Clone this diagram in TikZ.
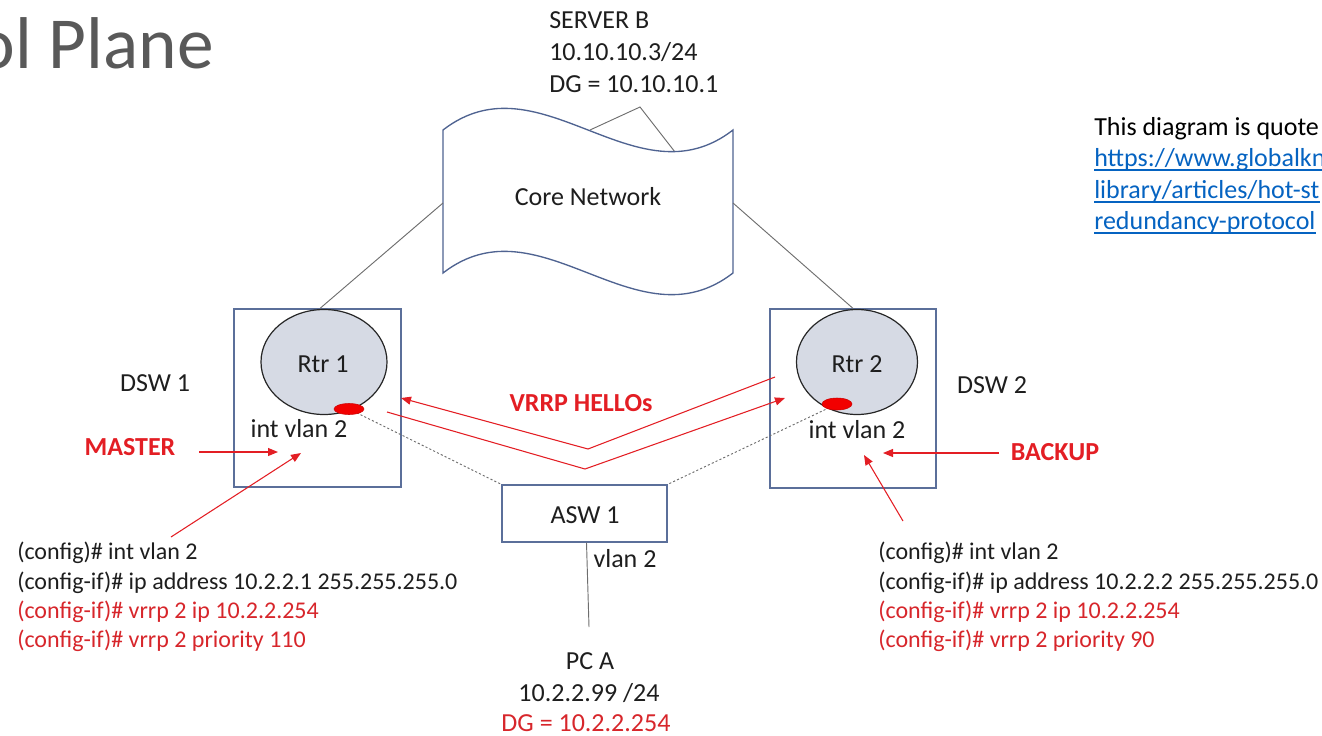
\documentclass[tikz,border=0pt]{standalone}
\usepackage{fontspec}
\setmainfont{Carlito}
\usetikzlibrary{arrows.meta,shapes.geometric,calc}

\definecolor{boxblue}{HTML}{5B6F9A}
\definecolor{wavepen}{HTML}{4F6391}
\definecolor{rtrfill}{HTML}{D6DAE4}
\definecolor{alertred}{HTML}{E31E24}
\definecolor{cfgred}{HTML}{D7262B}
\definecolor{linkblue}{HTML}{0563C1}
\definecolor{titlegray}{HTML}{595959}
\definecolor{wire}{HTML}{6E6E6E}
\definecolor{ink}{HTML}{1E1E1E}

\begin{document}
\begin{tikzpicture}[x=0.75pt,y=-0.75pt,
  lbl/.style={font=\fontsize{19.5}{23}\selectfont, inner sep=0pt, text=ink},
  cfgline/.style={font=\fontsize{18}{21}\selectfont, inner sep=0pt, anchor=base west, text=ink},
  cfgred/.style={cfgline, text=cfgred},
  alert/.style={font=\bfseries\fontsize{19.5}{23}\selectfont, inner sep=0pt, text=alertred},
  dswbox/.style={draw=boxblue, line width=0.9pt, rectangle, inner sep=0pt},
  rtr/.style={draw=black!85, line width=0.9pt, fill=rtrfill, ellipse, inner sep=0pt},
  port/.style={draw=red!80!black, line width=0.4pt, fill=red!95!black, ellipse, inner sep=0pt,
               minimum width=30*0.75pt, minimum height=11*0.75pt},
  wireline/.style={draw=wire, line width=0.7pt},
  dotlink/.style={draw=wire, line width=0.7pt, dash pattern=on 1.6pt off 1.6pt},
  redarrow/.style={draw=alertred, line width=0.8pt, -{Triangle[length=7.5pt,width=6pt]}},
  linkul/.style={draw=linkblue, line width=0.9pt},
]
\useasboundingbox (0,0) rectangle (1322,736);
\clip (0,0) rectangle (1322,736);

% slide title, running off the left edge
\node[anchor=base east, inner sep=0pt, font=\fontsize{55}{60}\selectfont, text=titlegray]
  (title) at (214,68) {ol Plane};

% server B
\node[lbl, anchor=base west] (srv1) at (549,28) {SERVER B};
\node[lbl, anchor=base west] (srv2) at (549,60) {10.10.10.3/24};
\node[lbl, anchor=base west] (srv3) at (549,92) {DG = 10.10.10.1};
\coordinate (srvA) at (590,130);
\coordinate (srvTop) at (640,107);
\coordinate (srvB) at (675,152);
\draw[wireline] (srvA) -- (srvTop) -- (srvB);

% core network cloud (wave shape)
\draw[draw=wavepen, line width=1pt, fill=white]
  (443,130) .. controls (540,55) and (636,205) .. (733,130)
  -- (733,273) .. controls (636,348) and (540,198) .. (443,273) -- cycle;
\node[lbl, anchor=base] (core) at (588,205) {Core Network};
\coordinate (coreL) at (443,203);
\coordinate (coreR) at (733,203);

% distribution switches
\node[dswbox, minimum width=167*0.75pt, minimum height=178*0.75pt] (dsw1) at (317.5,398) {};
\node[dswbox, minimum width=166*0.75pt, minimum height=179*0.75pt] (dsw2) at (853,398.5) {};
\node[rtr, minimum width=126*0.75pt, minimum height=105*0.75pt] (rtr1) at (324,362) {};
\node[rtr, minimum width=121*0.75pt, minimum height=105*0.75pt] (rtr2) at (857,362) {};
\node[lbl, anchor=base] (rtr1txt) at (323,372) {Rtr 1};
\node[lbl, anchor=base] (rtr2txt) at (857,372) {Rtr 2};
\node[lbl, anchor=base] (ifc1) at (299,437) {int vlan 2};
\node[lbl, anchor=base] (ifc2) at (857,438) {int vlan 2};
\node[lbl, anchor=base] (dsw1txt) at (155,391) {DSW 1};
\node[lbl, anchor=base] (dsw2txt) at (992,393) {DSW 2};

% uplinks to the core
\draw[wireline] (coreL) -- ($(dsw1.north)+(2.5,0)$);
\draw[wireline] (coreR) -- (dsw2.north);

% access switch
\node[dswbox, minimum width=165*0.75pt, minimum height=57*0.75pt] (asw) at (584.5,513.5) {};
\node[lbl, anchor=base] (aswtxt) at (585,523) {ASW 1};

% vlan ports on the routers and their links down to the access switch
\coordinate (p1) at (349,409);
\coordinate (p2) at (837,404);
\draw[dotlink] (p1) -- (asw.north west);
\draw[dotlink] (p2) -- (asw.north east);
\node[port] (port1) at (p1) {};
\node[port, minimum height=12*0.75pt] (port2) at (p2) {};

% PC A
\coordinate (pcTop) at (589,627);
\draw[wireline] ($(asw.south)+(2,0)$) -- (pcTop);
\node[lbl, anchor=base] (vlan) at (625,567) {vlan 2};
\node[lbl, anchor=base] (pc1) at (590,669) {PC A};
\node[lbl, anchor=base] (pc2) at (589,701) {10.2.2.99 /24};
\node[lbl, anchor=base, text=cfgred] (pc3) at (586,731) {DG = 10.2.2.254};

% VRRP hello exchange
\coordinate (h1s) at (775,377);
\coordinate (h1v) at (588,449);
\coordinate (h1e) at (401,398);
\coordinate (h2s) at (387,412);
\coordinate (h2v) at (585,469);
\coordinate (h2e) at (785,398);
\draw[redarrow] (h1s) -- (h1v) -- (h1e);
\draw[redarrow] (h2s) -- (h2v) -- (h2e);
\node[alert, anchor=base] (hello) at (581,411) {VRRP HELLOs};

% roles
\node[alert, anchor=base] (master) at (130,455) {MASTER};
\node[alert, anchor=base] (backup) at (1055,460) {BACKUP};
\coordinate (mFrom) at (199,452);
\coordinate (mTip) at (278,452);
\coordinate (mcFrom) at (171,537);
\coordinate (mcTip) at (301,453);
\coordinate (bFrom) at (999,453);
\coordinate (bTip) at (883,453);
\coordinate (bcFrom) at (903,521);
\coordinate (bcTip) at (864,455);
\draw[redarrow] (mFrom) -- (mTip);
\draw[redarrow] (mcFrom) -- (mcTip);
\draw[redarrow] (bFrom) -- (bTip);
\draw[redarrow] (bcFrom) -- (bcTip);

% router 1 configuration
\node[cfgline] (c11) at (17,559) {(config)\# int vlan 2};
\node[cfgline] (c12) at (17,589) {(config-if)\# ip address 10.2.2.1 255.255.255.0};
\node[cfgred]  (c13) at (17,618) {(config-if)\# vrrp 2 ip 10.2.2.254};
\node[cfgred]  (c14) at (17,647) {(config-if)\# vrrp 2 priority 110};

% router 2 configuration
\node[cfgline] (c21) at (878,559) {(config)\# int vlan 2};
\node[cfgline] (c22) at (878,589) {(config-if)\# ip address 10.2.2.2 255.255.255.0};
\node[cfgred]  (c23) at (878,618) {(config-if)\# vrrp 2 ip 10.2.2.254};
\node[cfgred]  (c24) at (878,647) {(config-if)\# vrrp 2 priority 90};

% source note, running off the right edge
\node[lbl, anchor=base west, text=black] (src1) at (1094,135) {This diagram is quote};
\node[lbl, anchor=base west, text=linkblue] (src2) at (1094,166) {https://www.globalkn};
\node[lbl, anchor=base west, text=linkblue] (src3) at (1094,198) {library/articles/hot-st};
\node[lbl, anchor=base west, text=linkblue] (src4) at (1094,229) {redundancy-protocol};
\foreach \s in {src2,src3,src4}
  \draw[linkul] ($(\s.base west)+(0,4)$) -- ($(\s.base east)+(0,4)$);
\end{tikzpicture}
\end{document}
